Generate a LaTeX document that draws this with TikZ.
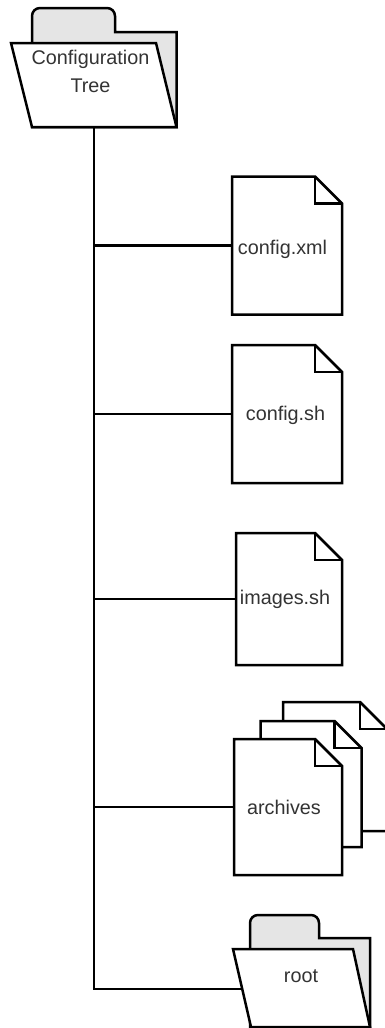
\documentclass[tikz,border=0pt]{standalone}
\usepackage{fontspec}
\setmainfont{Liberation Sans}
\usetikzlibrary{calc}
\tikzset{
	outline/.style={draw=black,line width=2.5pt,line join=miter},
	link/.style={draw=black,line width=2.5pt},
	pagebox/.style={inner sep=0pt,outer sep=0pt},
	tag/.style={font=\fontsize{19.8}{28}\selectfont,text=black!80,align=center,inner sep=0pt}
}
\begin{document}
\begin{tikzpicture}[x=1pt,y=-1pt]
	\useasboundingbox (0,0) rectangle (385,1028);
	% folders
	\foreach \backl/\tabr/\tabt/\stept/\backr/\frontt/\frontl/\frontr/\frontb/\footl in {32/115/8/32/176.5/43/11/156/127/32, 250/319/915/938/370/949/233/353/1027/251} {
		\draw[outline,fill=black!10] (\backl,\frontt) [rounded corners=8pt] -- (\backl,\tabt) -- (\tabr,\tabt) [sharp corners] -- (\tabr,\stept) -- (\backr,\stept) -- (\backr,\frontb) -- (\backl,\frontb) -- cycle;
		\draw[outline,fill=white] (\frontl,\frontt) -- (\frontr,\frontt) -- (\backr,\frontb) -- (\footl,\frontb) -- cycle;
	}
	\node[tag] (cfgTree) at (90.5,71) {Configuration\\Tree};
	\node[tag] (rootDir) at (301,976) {root};
	\coordinate (treeFoot) at (94,127);
	\coordinate (rootEdge) at (242,989);
	% pages
	\foreach \name/\cx/\cy/\w/\h in {cfgXml/287/245.5/110/138, cfgSh/287/414/110/138, imgSh/289/599/106/132, archBack/335/766.5/104/129, archMid/311/784/101/126, archFront/288/807/108/136} {
		\node[pagebox,minimum width=\w pt,minimum height=\h pt] (\name) at (\cx,\cy) {};
		\draw[outline,fill=white] (\name.north west) -- ($(\name.north east)+(-27,0)$) -- ($(\name.north east)+(0,27)$) -- (\name.south east) -- (\name.south west) -- cycle;
		\draw[outline] ($(\name.north east)+(-27,0)$) -- ($(\name.north east)+(-27,27)$) -- ($(\name.north east)+(0,27)$);
	}
	\foreach \name/\dx/\dy/\txt in {cfgXml/-4.5/4/config.xml, cfgSh/-1.5/1/config.sh, imgSh/-4/0/images.sh, archFront/-4/0/archives} {
		\node[tag] (\name Tag) at ($(\name)+(\dx,\dy)$) {\txt};
	}
	% links
	\foreach \name in {cfgXml,cfgSh,imgSh,archFront} {
		\draw[link] (treeFoot) |- (\name.west);
	}
	\draw[link] (treeFoot) |- (rootEdge);
\end{tikzpicture}
\end{document}
